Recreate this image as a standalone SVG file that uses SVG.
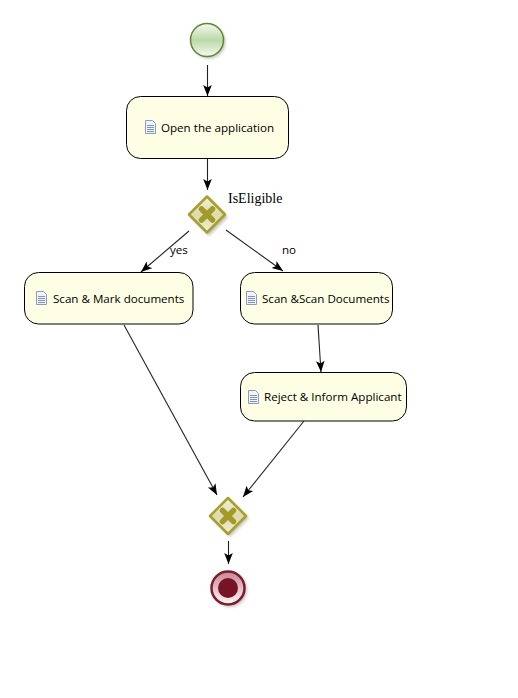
<svg xmlns="http://www.w3.org/2000/svg" width="518" height="698" viewBox="0 0 518 698">
<style>
.task{fill:#fefee4;stroke:#000;stroke-width:1}
.lbl{font-family:"Open Sans","Noto Sans",sans-serif;font-size:11.600px;fill:#000}
.gw{fill:url(#gwFill);stroke:#a89f2e;stroke-width:2.500;stroke-linejoin:round}
.x{fill:none;stroke:#a39a2a;stroke-width:5.500;stroke-linecap:round}
.c{fill:none;stroke:#222;stroke-width:1.100;marker-end:url(#arr)}
</style>
<defs>
<marker id="arr" markerUnits="userSpaceOnUse" markerWidth="13" markerHeight="13" refX="11" refY="5.500" orient="auto"><path d="M0,1.200L11,5.500L0,9.800L2.500,5.500Z" fill="#000"/></marker>
<linearGradient id="sFill" x1="0" y1="0" x2="0" y2="1"><stop offset="0" stop-color="#f4faf0"/><stop offset=".5" stop-color="#bcd8a8"/><stop offset="1" stop-color="#f4faf0"/></linearGradient>
<linearGradient id="gwFill" x1="0" y1="0" x2="0" y2="1"><stop offset="0" stop-color="#f2f2d8"/><stop offset=".5" stop-color="#dcdcae"/><stop offset="1" stop-color="#f0f0d2"/></linearGradient>
<linearGradient id="eFill" x1="0" y1="0" x2="0" y2="1"><stop offset="0" stop-color="#c98592"/><stop offset="1" stop-color="#fff8f8"/></linearGradient>
<filter id="sh" x="-30%" y="-30%" width="170%" height="170%"><feGaussianBlur stdDeviation="1.500"/></filter>
<g id="doc"><path d="M0.500,0.500H7.500L10.500,3.500V13.500H0.500Z" fill="#f0f3fa" stroke="#8a9bbd"/><path d="M2,5.500H9M2,7.500H9M2,9.500H9M2,11.500H9" stroke="#7f92b8" fill="none"/></g>
</defs>
<g id="connectors">
<path class="c" d="M207.500,65V96"/>
<path class="c" d="M207.500,158V190"/>
<path class="c" d="M189,231L141,272"/>
<path class="c" d="M226,230L283,271"/>
<path class="c" d="M318,325L321,372"/>
<path class="c" d="M124,325L217,495"/>
<path class="c" d="M304,421L243,497"/>
<path class="c" d="M228.500,541V564"/>
</g>
<g id="start"><circle cx="209" cy="42" r="16.500" fill="#888" opacity=".5" filter="url(#sh)"/><circle cx="207" cy="40" r="16.500" fill="url(#sFill)" stroke="#64852f" stroke-width="1.500"/></g>
<g id="task-open"><rect class="task" x="126.500" y="96.500" width="162" height="62" rx="14"/><use href="#doc" x="145" y="120"/><text class="lbl" x="161" y="132">Open the application</text></g>
<g id="gateway-1"><path d="M209,198L228,217L209,236L190,217Z" fill="#888" opacity=".5" filter="url(#sh)"/><path class="gw" d="M207,196.500L225,214.500L207,232.500L189,214.500Z"/><path class="x" d="M201.500,209L212.500,220M212.500,209L201.500,220"/><text x="228" y="203" font-family="'Liberation Serif',serif" font-size="14" fill="#000">IsEligible</text></g>
<text class="lbl" x="170" y="254">yes</text>
<text class="lbl" x="282" y="254">no</text>
<g id="task-mark"><rect class="task" x="24.500" y="272.500" width="168.500" height="51.500" rx="14"/><use href="#doc" x="36" y="291"/><text class="lbl" x="53" y="303">Scan &amp; Mark documents</text></g>
<g id="task-scan"><rect class="task" x="240.500" y="272.500" width="152" height="51.500" rx="14"/><use href="#doc" x="246" y="291"/><text class="lbl" x="262" y="303">Scan &amp;Scan Documents</text></g>
<g id="task-reject"><rect class="task" x="240.500" y="372.500" width="166" height="48.500" rx="14"/><use href="#doc" x="248" y="390"/><text class="lbl" x="264" y="401">Reject &amp; Inform Applicant</text></g>
<g id="gateway-2"><path d="M230,499L249,518L230,537L211,518Z" fill="#888" opacity=".5" filter="url(#sh)"/><path class="gw" d="M228,498L246,516L228,534L210,516Z"/><path class="x" d="M222.500,510.500L233.500,521.500M233.500,510.500L222.500,521.500"/></g>
<g id="end"><circle cx="230" cy="590" r="17" fill="#888" opacity=".5" filter="url(#sh)"/><circle cx="228" cy="588" r="16.500" fill="url(#eFill)" stroke="#7a1e2e" stroke-width="2.500"/><circle cx="228" cy="588" r="10" fill="#761426"/></g>
</svg>
